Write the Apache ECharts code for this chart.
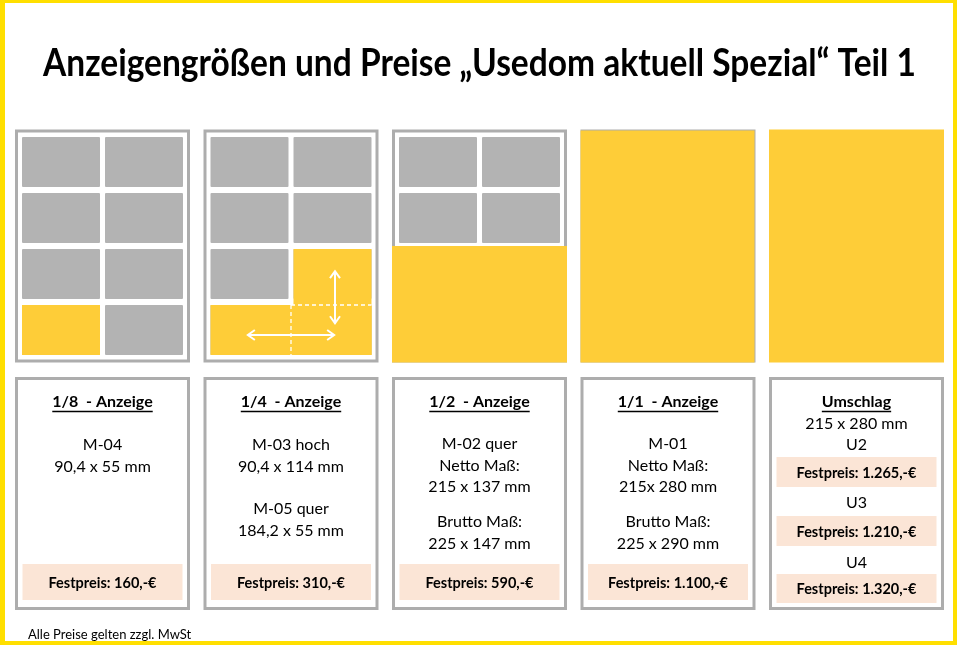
<!DOCTYPE html>
<html><head><meta charset="utf-8">
<script src="https://cdn.jsdelivr.net/npm/echarts@6/dist/echarts.min.js"></script>
<style>html,body{margin:0;padding:0;background:#fff}#c{width:960px;height:645px}</style>
</head><body><div id="c"></div>
<script>
// ---------- DATA ----------
const titleText = 'Anzeigengrößen und Preise „Usedom aktuell Spezial“ Teil 1';
const formats = ['1/8  - Anzeige', '1/4  - Anzeige', '1/2  - Anzeige', '1/1  - Anzeige', 'Umschlag'];
// page grid (2 columns x 4 rows) cells
const pageCells = [[0,0],[1,0],[0,1],[1,1],[0,2],[1,2],[0,3],[1,3]];
// occupied area of the page per format: [col0,row0,col1,row1]
const adAreas = [
  [[0,3,1,4]],
  [[1,2,2,4],[0,3,2,4]],
  [[0,2,2,4]],
  [[0,0,2,4]],
  [[0,0,2,4]]
];
// size-variant arrows (hoch / quer) on 1/4 page: [col0,row0,col1,row1]
const variantArrows = [[1.53,2.45,1.53,3.38],[0.48,3.59,1.52,3.59]];
const variantSplits = [[1,3,1,4],[1,3,2,3]];
const descLines = [
  ['M-04', '90,4 x 55 mm'],
  ['M-03 hoch', '90,4 x 114 mm', 'M-05 quer', '184,2 x 55 mm'],
  ['M-02 quer', 'Netto Maß:', '215 x 137 mm', 'Brutto Maß:', '225 x 147 mm'],
  ['M-01', 'Netto Maß:', '215x 280 mm', 'Brutto Maß:', '225 x 290 mm'],
  ['215 x 280 mm']
];
const prices = ['160', '310', '590', '1.100'];
const coverPages = ['U2', 'U3', 'U4'];
const coverPrices = ['1.265', '1.210', '1.320'];
const footnote = 'Alle Preise gelten zzgl. MwSt';

// ---------- LAYOUT / STYLE ----------
const PITCH = 188.5, AREA_X0 = 19.5, AREA_TOP = 134, AREA_W = 166, AREA_H = 224;
const FRAME_OFF = 3, FRAME_LW = 3, BLEED = 4.5, INSET_X = 2.5, INSET_Y = 3;
const hasFrame = [true, true, true, true, false];
const bleeds = [false, false, true, true, true];
const GRAY = '#b3b3b3', FRAME = '#adadad', YEL = '#fecd38', BAND = '#fbe5d6', BORDER = '#ffdf00';
const BOX_TOP = 377, BOX_BOTTOM = 610, BOX_W = 175;
const descY = [[445,467],[445,467,509,531],[444,466,487,522,544],[444,466,487,522,544],[424]];
const priceBand = [564, 600];
const coverPageY = [445, 503, 563];
const coverBands = [[457,487],[516,546],[574,603]];
const FONT = 'Lato';

const chart = echarts.init(document.getElementById('c'), null, {renderer: 'canvas'});
const mctx = document.createElement('canvas').getContext('2d');
function textW(t, font) { mctx.font = font; return mctx.measureText(t).width; }

const grids = [], xAxes = [], yAxes = [], series = [];
formats.forEach((f, i) => {
  grids.push({left: AREA_X0 + i * PITCH, top: AREA_TOP, width: AREA_W, height: AREA_H, show: false});
  xAxes.push({type: 'value', gridIndex: i, min: 0, max: 2, show: false});
  yAxes.push({type: 'value', gridIndex: i, min: 0, max: 4, inverse: true, show: false});
  if (hasFrame[i]) {
    series.push({type: 'custom', xAxisIndex: i, yAxisIndex: i, clip: false, silent: true,
      data: [[0,0,2,4]], encode: {x: [0,2], y: [1,3]},
      renderItem: (p, api) => {
        const a = api.coord([api.value(0), api.value(1)]), b = api.coord([api.value(2), api.value(3)]);
        return {type: 'rect', shape: {x: a[0]-FRAME_OFF, y: a[1]-FRAME_OFF, width: b[0]-a[0]+2*FRAME_OFF, height: b[1]-a[1]+2*FRAME_OFF},
          style: {fill: '#fff', stroke: FRAME, lineWidth: FRAME_LW}};
      }});
    series.push({type: 'custom', xAxisIndex: i, yAxisIndex: i, clip: false, silent: true,
      data: pageCells, encode: {x: 0, y: 1},
      renderItem: (p, api) => {
        const c = api.value(0), r = api.value(1);
        const a = api.coord([c, r]), b = api.coord([c+1, r+1]);
        return {type: 'rect', shape: {x: a[0]+INSET_X, y: a[1]+INSET_Y, width: b[0]-a[0]-2*INSET_X, height: b[1]-a[1]-2*INSET_Y, r: 1},
          style: {fill: GRAY}};
      }});
  }
  series.push({type: 'custom', xAxisIndex: i, yAxisIndex: i, clip: false, silent: true,
    data: adAreas[i], encode: {x: [0,2], y: [1,3]},
    renderItem: (p, api) => {
      const c0 = api.value(0), r0 = api.value(1), c1 = api.value(2), r1 = api.value(3);
      const a = api.coord([c0, r0]), b = api.coord([c1, r1]);
      let x0, y0, x1, y1;
      if (bleeds[i]) {
        const trim = hasFrame[i] && r0 === 0 ? 1 : 0;
        x0 = a[0] - (c0 === 0 ? BLEED : 0); x1 = b[0] + (c1 === 2 ? BLEED - trim : 0);
        y0 = a[1] - (r0 === 0 ? BLEED - trim : 0); y1 = b[1] + (r1 === 4 ? BLEED : 0);
      } else {
        x0 = a[0] + INSET_X; x1 = b[0] - INSET_X; y0 = a[1] + INSET_Y; y1 = b[1] - INSET_Y;
      }
      return {type: 'rect', shape: {x: x0, y: y0, width: x1-x0, height: y1-y0}, style: {fill: YEL}};
    }});
});
// 1/4 page: dashed split lines and arrows
series.push({type: 'custom', xAxisIndex: 1, yAxisIndex: 1, clip: false, silent: true,
  data: variantSplits, encode: {x: [0,2], y: [1,3]},
  renderItem: (p, api) => {
    const a = api.coord([api.value(0), api.value(1)]), b = api.coord([api.value(2), api.value(3)]);
    const vert = a[0] === b[0];
    const sh = vert ? {x1: a[0], y1: a[1]+INSET_Y, x2: b[0], y2: b[1]-INSET_Y} : {x1: a[0], y1: a[1]+INSET_Y, x2: b[0]-INSET_X, y2: b[1]+INSET_Y};
    return {type: 'line', shape: sh, style: {stroke: '#fff', lineWidth: 1.3, lineDash: [4, 3]}};
  }});
series.push({type: 'custom', xAxisIndex: 1, yAxisIndex: 1, clip: false, silent: true,
  data: variantArrows, encode: {x: [0,2], y: [1,3]},
  renderItem: (p, api) => {
    const a = api.coord([api.value(0), api.value(1)]), b = api.coord([api.value(2), api.value(3)]);
    const dx = b[0]-a[0], dy = b[1]-a[1], L = Math.hypot(dx, dy), ux = dx/L, uy = dy/L;
    const H = 7, W = 5;
    const head = (pt, s) => ({type: 'polyline', shape: {points: [
      [pt[0] - s*ux*H - uy*W, pt[1] - s*uy*H + ux*W], pt, [pt[0] - s*ux*H + uy*W, pt[1] - s*uy*H - ux*W]]},
      style: {stroke: '#fff', lineWidth: 2, fill: null}});
    return {type: 'group', children: [
      {type: 'line', shape: {x1: a[0], y1: a[1], x2: b[0], y2: b[1]}, style: {stroke: '#fff', lineWidth: 2}},
      head(b, 1), head(a, -1)]};
  }});

// ---------- graphic: border, title, info boxes ----------
const g = [];
g.push({type: 'rect', shape: {x: 0, y: 0, width: 5, height: 645}, style: {fill: BORDER}, z: 10});
g.push({type: 'rect', shape: {x: 0, y: 0, width: 957, height: 3}, style: {fill: BORDER}, z: 10});
g.push({type: 'rect', shape: {x: 953, y: 0, width: 4, height: 645}, style: {fill: BORDER}, z: 10});
g.push({type: 'rect', shape: {x: 0, y: 641, width: 957, height: 4}, style: {fill: BORDER}, z: 10});

const titleFont = 'bold 38px ' + FONT;
const tw = textW(titleText, titleFont);
g.push({type: 'text', x: 479.5, y: 64, scaleX: 873 / tw, scaleY: 1,
  style: {text: titleText, font: titleFont, fill: '#000', align: 'center', verticalAlign: 'middle'}});

function txt(t, x, y, font) {
  g.push({type: 'text', x: x, y: y, style: {text: t, font: font, fill: '#000', align: 'center', verticalAlign: 'middle'}});
}
const headFont = 'bold 16px ' + FONT, bodyFont = '16px ' + FONT, priceFont = 'bold 14.5px ' + FONT;
formats.forEach((f, i) => {
  const left = AREA_X0 + i * PITCH - BLEED, cx = left + BOX_W / 2;
  g.push({type: 'rect', shape: {x: left + 1.5, y: BOX_TOP + 1.5, width: BOX_W - 3, height: BOX_BOTTOM - BOX_TOP - 3},
    style: {fill: '#fff', stroke: FRAME, lineWidth: 3}});
  txt(f, cx, 402, headFont);
  const hw = textW(f, headFont);
  g.push({type: 'line', shape: {x1: cx - hw/2, y1: 411.5, x2: cx + hw/2, y2: 411.5}, style: {stroke: '#000', lineWidth: 1.3}});
  descLines[i].forEach((l, k) => txt(l, cx, descY[i][k], bodyFont));
  if (i < prices.length) {
    g.push({type: 'rect', shape: {x: cx - 80, y: priceBand[0], width: 160, height: priceBand[1] - priceBand[0]}, style: {fill: BAND}});
    txt('Festpreis: ' + prices[i] + ',-€', cx, (priceBand[0] + priceBand[1]) / 2 + 1, priceFont);
  } else {
    coverPages.forEach((u, k) => {
      txt(u, cx, coverPageY[k], bodyFont);
      g.push({type: 'rect', shape: {x: cx - 80, y: coverBands[k][0], width: 160, height: coverBands[k][1] - coverBands[k][0]}, style: {fill: BAND}});
      txt('Festpreis: ' + coverPrices[k] + ',-€', cx, (coverBands[k][0] + coverBands[k][1]) / 2 + 1, priceFont);
    });
  }
});
g.push({type: 'text', x: 28, y: 635, style: {text: footnote, font: '13px ' + FONT, fill: '#000', align: 'left', verticalAlign: 'middle'}});

chart.setOption({
  animation: false,
  backgroundColor: '#fff',
  grid: grids, xAxis: xAxes, yAxis: yAxes, series: series,
  graphic: {elements: g}
});
</script></body></html>
